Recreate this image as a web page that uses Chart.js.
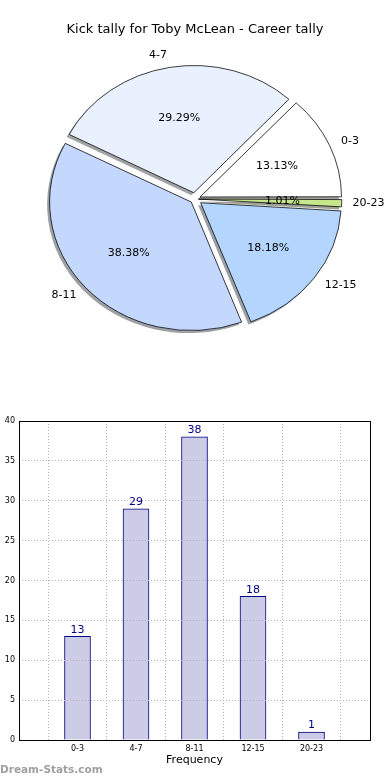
<!DOCTYPE html>
<html>
<head>
<meta charset="utf-8">
<script src="https://cdn.jsdelivr.net/npm/chart.js@4.4.0/dist/chart.umd.min.js"></script>
<style>
  body { margin: 0; background: #fff; }
  #wrap { position: relative; width: 390px; height: 780px; overflow: hidden; }
  #pie { position: absolute; left: 0; top: 0; }
  #bar { position: absolute; left: 0; top: 380px; }
  #mark { position: absolute; left: 0; top: 763px; font: bold 10.5px 'DejaVu Sans'; color: #a0a0a0; z-index: 2; }
</style>
</head>
<body>
<div id="wrap">
  <canvas id="pie" width="390" height="380"></canvas>
  <canvas id="bar" width="390" height="400"></canvas>
  <div id="mark">Dream-Stats.com</div>
</div>
<script>
const title = 'Kick tally for Toby McLean - Career tally'
const categories = ['0-3', '4-7', '8-11', '12-15', '20-23']
const counts = [13, 29, 38, 18, 1]
const sliceColors = ['#ffffff', '#eaf1fe', '#c4d8fe', '#b4d6fe', '#c8e68c']
const sliceOffsets = [22, 28, 20, 28, 14]
const yTicks = { min: 0, max: 40, step: 5 }

const FONT = "'DejaVu Sans', sans-serif"
const SQUASH = 127 / 140 // matplotlib pie is drawn slightly flattened

function shadowOf(hex) {
  // matplotlib shadow: 0.3 * facecolor, alpha 0.5
  const n = parseInt(hex.slice(1), 16)
  const r = Math.round(((n >> 16) & 255) * 0.3)
  const g = Math.round(((n >> 8) & 255) * 0.3)
  const b = Math.round((n & 255) * 0.3)
  return `rgba(${r},${g},${b},0.5)`
}

// pie runs clockwise in Chart.js, so reverse to match the counter-clockwise original
const pieLabels = categories.slice().reverse()
const pieValues = counts.slice().reverse()
const pieColors = sliceColors.slice().reverse()
const pieOffsets = sliceOffsets.slice().reverse()
const total = counts.reduce((a, b) => a + b, 0)

const pieLook = {
  id: 'pieLook',
  beforeDatasetsDraw(chart) {
    const ctx = chart.ctx
    const arcs = chart.getDatasetMeta(0).data
    const cy = arcs[0].y
    ctx.save()
    ctx.translate(0, cy)
    ctx.scale(1, SQUASH)
    ctx.translate(0, -cy)
    // shadows first, under every wedge
    arcs.forEach((arc, i) => {
      const sh = shadowOf(pieColors[i])
      const shadow = new arc.constructor({
        x: arc.x,
        y: arc.y,
        startAngle: arc.startAngle,
        endAngle: arc.endAngle,
        innerRadius: arc.innerRadius,
        outerRadius: arc.outerRadius,
        circumference: arc.circumference,
        options: Object.assign({}, arc.options, { backgroundColor: sh, borderColor: sh, borderWidth: 0 })
      })
      ctx.save()
      ctx.translate(-2.5, 2.8)
      shadow.draw(ctx)
      ctx.restore()
    })
  },
  afterDatasetsDraw(chart) {
    const ctx = chart.ctx
    ctx.restore()
    const arcs = chart.getDatasetMeta(0).data
    ctx.save()
    ctx.fillStyle = '#000'
    ctx.font = `13px ${FONT}`
    ctx.textAlign = 'center'
    ctx.textBaseline = 'middle'
    ctx.fillText(title, 195, 30)
    ctx.font = `11px ${FONT}`
    arcs.forEach((arc, i) => {
      const mid = (arc.startAngle + arc.endAngle) / 2
      const shift = pieOffsets[i] / 4
      const r = arc.outerRadius
      const x0 = arc.x + Math.cos(mid) * shift
      const y0 = arc.y + Math.sin(mid) * shift * SQUASH
      ctx.textAlign = Math.cos(mid) > 0 ? 'left' : 'right'
      ctx.fillText(pieLabels[i], x0 + Math.cos(mid) * r * 1.1, y0 + Math.sin(mid) * r * 1.1 * SQUASH)
      ctx.textAlign = 'center'
      const pct = (pieValues[i] / total * 100).toFixed(2) + '%'
      ctx.fillText(pct, x0 + Math.cos(mid) * r * 0.6, y0 + Math.sin(mid) * r * 0.6 * SQUASH)
    })
    ctx.restore()
  }
}

new Chart(document.getElementById('pie'), {
  type: 'pie',
  data: {
    labels: pieLabels,
    datasets: [{
      data: pieValues,
      backgroundColor: pieColors,
      borderColor: '#000',
      borderWidth: 0.8,
      offset: pieOffsets,
      hoverOffset: 0,
      clip: false
    }]
  },
  options: {
    responsive: false,
    animation: false,
    rotation: 90,
    radius: 140,
    layout: { padding: { top: 18 } },
    plugins: { legend: { display: false }, tooltip: { enabled: false } }
  },
  plugins: [pieLook]
})

const barLook = {
  id: 'barLook',
  afterDraw(chart) {
    const ctx = chart.ctx
    const a = chart.chartArea
    ctx.save()
    ctx.strokeStyle = '#000'
    ctx.lineWidth = 1
    ctx.strokeRect(Math.round(a.left) + 0.5, Math.round(a.top) + 0.5, Math.round(a.right - a.left), Math.round(a.bottom - a.top))
    ctx.fillStyle = '#000080'
    ctx.font = `11px ${FONT}`
    ctx.textAlign = 'center'
    ctx.textBaseline = 'bottom'
    chart.getDatasetMeta(0).data.forEach((bar, i) => {
      const v = chart.data.datasets[0].data[i]
      if (v == null) return
      ctx.fillText(String(v), bar.x, bar.y - 1)
    })
    ctx.restore()
  }
}

new Chart(document.getElementById('bar'), {
  type: 'bar',
  data: {
    labels: ['', ...categories, ''],
    datasets: [{
      data: [null, ...counts, null],
      backgroundColor: '#ccccE6',
      borderColor: '#000080',
      borderWidth: 1,
      barThickness: 26
    }]
  },
  options: {
    responsive: false,
    animation: false,
    layout: { padding: { top: 41, right: 20, left: 0, bottom: 0 } },
    plugins: { legend: { display: false }, tooltip: { enabled: false } },
    scales: {
      x: {
        offset: false,
        grid: { color: '#b4b4b4', z: 1, drawTicks: false },
        border: { display: false, dash: [1, 2] },
        ticks: { font: { size: 8, family: FONT }, color: '#000', maxRotation: 0, autoSkip: false, padding: 4 },
        title: { display: true, text: 'Frequency', font: { size: 11, family: FONT }, color: '#000', padding: { top: 0, bottom: 13 } },
        afterFit(s) { s.height = 40 }
      },
      y: {
        min: yTicks.min,
        max: yTicks.max,
        grid: { color: '#b4b4b4', z: 1, drawTicks: false },
        border: { display: false, dash: [1, 2] },
        ticks: { stepSize: yTicks.step, font: { size: 8, family: FONT }, color: '#000', padding: 4 },
        afterFit(s) { s.width = 19 }
      }
    }
  },
  plugins: [barLook]
})
</script>
</body>
</html>
